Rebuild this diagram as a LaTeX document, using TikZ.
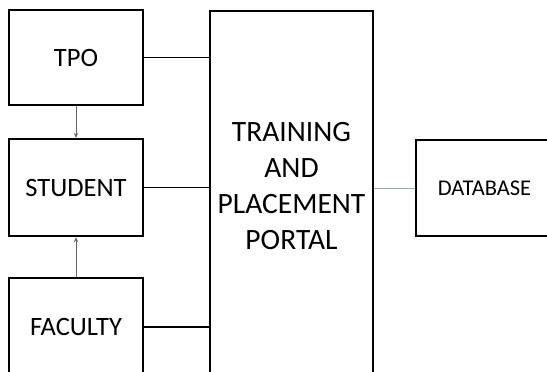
\documentclass[tikz,border=0pt]{standalone}
\usepackage{fontspec}
\setmainfont{Carlito}
\usepackage{tikz}
\usetikzlibrary{positioning,arrows.meta}

\begin{document}
\begin{tikzpicture}[
          x=1pt, y=-1pt,
          box/.style={draw, line width=2.4pt, inner sep=0pt},
          lbl/.style={font=\fontsize{26.5}{31}\selectfont},
          link/.style={line width=1.6pt},
          flow/.style={draw=black!60, line width=0.8pt, -{Stealth[length=5pt,width=4.5pt]}}
      ]
        \useasboundingbox (0,0) rectangle (547,372);
        \clip (0,0) rectangle (547,372);
        \node[box, lbl, minimum width=134pt, minimum height=95pt] (tpo) at (76,57.5) {TPO};
        \node[box, lbl, minimum width=134pt, minimum height=97pt] (student) at (76,187.5) {STUDENT};
        \node[box, lbl, minimum width=134pt, minimum height=98pt] (faculty) at (76,327) {FACULTY};
        \node[box, minimum width=163pt, minimum height=369pt] (portal) at (291.5,195.5) {};
        \node[align=center, font=\fontsize{29.5}{36}\selectfont] (portaltext) at (291.5,186) {TRAINING\\AND\\PLACEMENT\\PORTAL};
        \node[box, font=\fontsize{22.5}{26}\selectfont, minimum width=137pt, minimum height=96pt] (database) at (484.5,188) {DATABASE};
        \draw[link] (tpo.east) -- (tpo.east -| portal.west);
        \draw[link] (student.east) -- (student.east -| portal.west);
        \draw[link] (faculty.east) -- (faculty.east -| portal.west);
        \draw[draw={rgb,255:red,150;green,172;blue,182}, line width=0.9pt] (portal.east |- database.west) -- (database.west);
        \draw[flow] (tpo.south) -- (student.north);
        \draw[flow] (faculty.north) -- (student.south);
      \end{tikzpicture}
\end{document}
